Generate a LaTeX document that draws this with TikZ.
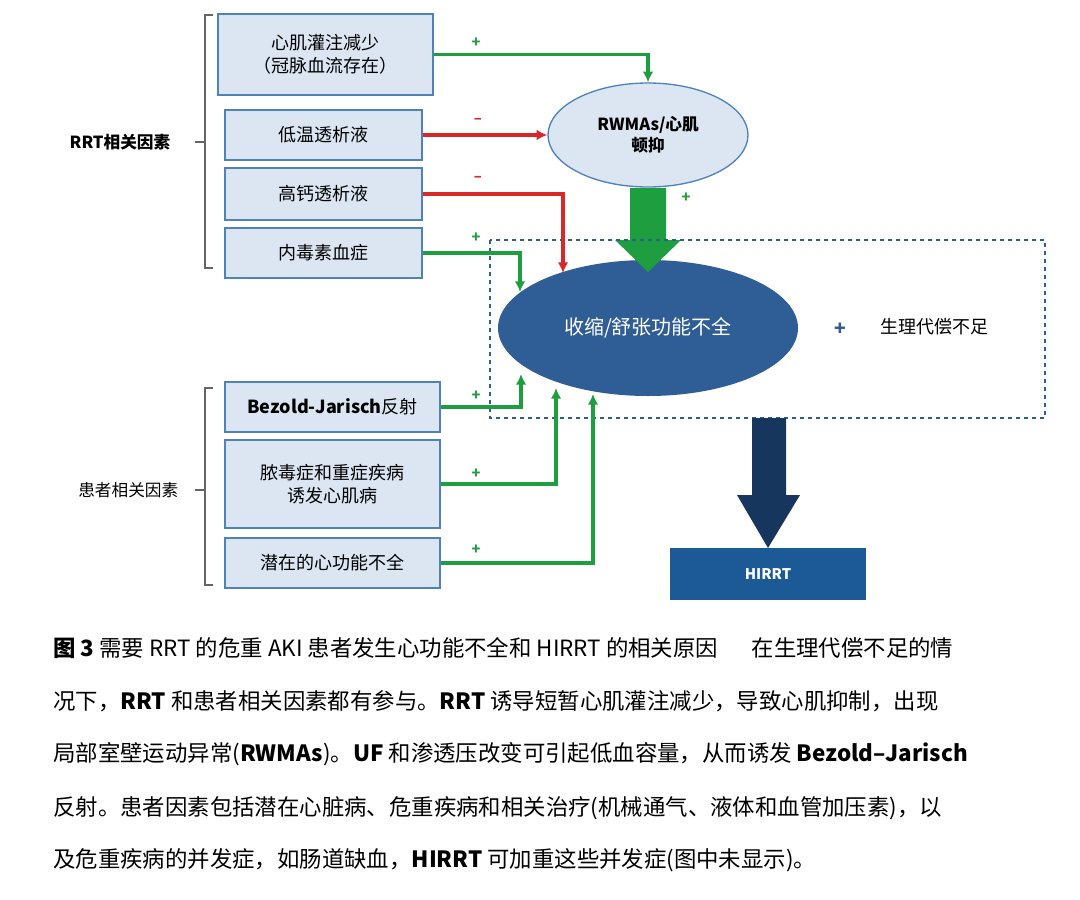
\documentclass[tikz,border=0pt]{standalone}
\usepackage{fontspec}
\setmainfont{Noto Sans CJK SC}
\usetikzlibrary{positioning,shapes.geometric,calc,arrows.meta}
\definecolor{boxfill}{HTML}{DCE6F2}
\definecolor{boxline}{HTML}{4F81BD}
\definecolor{darkblue}{HTML}{2F5D95}
\definecolor{navy}{HTML}{17365D}
\definecolor{hirrtblue}{HTML}{1C5A96}
\definecolor{arrgreen}{HTML}{1E9E3E}
\definecolor{arrred}{HTML}{D8282A}
\begin{document}
\begin{tikzpicture}[x=0.75pt,y=-0.75pt]
    \tikzstyle{factor}=[draw=boxline,fill=boxfill,line width=1pt,inner sep=0,align=center,font=\fontsize{13.5}{17}\selectfont]
    \tikzstyle{plusarr}=[draw=arrgreen,line width=2.4pt,-{Latex[length=8pt,width=8pt]}]
    \tikzstyle{minusarr}=[draw=arrred,line width=2.4pt,-{Latex[length=8pt,width=8pt]}]
    \tikzstyle{sign}=[font=\bfseries\fontsize{11}{11}\selectfont,inner sep=0]
    \tikzstyle{brace}=[draw=gray!80!black,line width=0.8pt]
    \tikzstyle{group}=[font=\fontsize{12.5}{14}\selectfont,anchor=east]
    \tikzstyle{captext}=[anchor=west,inner sep=0,font=\fontsize{16.8}{18}\selectfont]
    \useasboundingbox (0,0) rectangle (1080,899);
    \fill[white] (0,0) rectangle (1080,899);
    {
        % RRT related factors
        \node[factor,minimum width=161.25pt,minimum height=60.75pt] (perf) at (325.5,54.5) {心肌灌注减少\\（冠脉血流存在）};
        \node[factor,minimum width=147.75pt,minimum height=37.5pt] (cold) at (323.5,135) {低温透析液};
        \node[factor,minimum width=147.75pt,minimum height=39pt] (calc) at (323.5,194) {高钙透析液};
        \node[factor,minimum width=147.75pt,minimum height=37.5pt] (endo) at (323.5,253) {内毒素血症};
        % patient related factors
        \node[factor,minimum width=161.25pt,minimum height=37.5pt] (bj) at (332.5,407) {\textbf{Bezold-Jarisch}反射};
        \node[factor,minimum width=161.25pt,minimum height=66pt] (sep) at (332.5,484) {脓毒症和重症疾病\\诱发心肌病};
        \node[factor,minimum width=161.25pt,minimum height=37.5pt] (lat) at (332.5,563) {潜在的心功能不全};
        % brackets
        \draw[brace] (213,15) -- (205,15) -- (205,268) -- (213,268);
        \draw[brace] (195,142) -- (205,142);
        \node[group,font=\bfseries\fontsize{12.5}{14}\selectfont] (rrt) at (175,142) {RRT相关因素};
        \draw[brace] (213,388) -- (205,388) -- (205,585) -- (213,585);
        \draw[brace] (195,490) -- (205,490);
        \node[group] (pat) at (183,490) {患者相关因素};
        % ellipses
        \node[ellipse,draw=boxline,fill=boxfill,line width=1pt,minimum width=150pt,minimum height=78pt,align=center,font=\bfseries\fontsize{12.5}{16}\selectfont] (rwma) at (648,135) {RWMAs/心肌\\顿抑};
        \node[ellipse,fill=darkblue,minimum width=225pt,minimum height=102pt,text=white,font=\fontsize{15}{17}\selectfont] (dys) at (648,328) {收缩/舒张功能不全};
        % big green arrow
        \fill[arrgreen] (630,188) -- (666,188) -- (666,240) -- (681,240) -- (648,272) -- (615,240) -- (630,240) -- cycle;
        % dotted frame
        \draw[darkblue,line width=1.2pt,dash pattern=on 3pt off 3pt] (490,240) rectangle (1045,418);
        \node[text=darkblue,font=\bfseries\Large,inner sep=0] (plus) at (840,329) {+};
        \node[font=\fontsize{13.5}{15}\selectfont,anchor=west] (comp) at (876,327) {生理代偿不足};
        % HIRRT
        \node[fill=hirrtblue,minimum width=147pt,minimum height=39pt,text=white,font=\bfseries\fontsize{11}{13}\selectfont] (hirrt) at (768,574) {HIRRT};
        \fill[navy] (752,418) -- (786,418) -- (786,495) -- (800,495) -- (768,548) -- (737,495) -- (752,495) -- cycle;
        \node[sign,text=arrgreen] at (686,198) {+};
        % connectors
        \draw[plusarr] (perf.east) -| (rwma.north);
        \draw[minusarr] (cold.east) -- (rwma.west);
        \coordinate (calcin) at ($(dys.center)+(-85,-55)$);
        \draw[minusarr] (calc.east) -| (calcin);
        \coordinate (endoin) at ($(dys.center)+(-128,-36)$);
        \draw[plusarr] (endo.east) -| (endoin);
        \coordinate (bjin) at ($(dys.center)+(-127,46)$);
        \draw[plusarr] (bj.east) -| (bjin);
        \coordinate (sepin) at ($(dys.center)+(-92,60)$);
        \draw[plusarr] (sep.east) -| (sepin);
        \coordinate (latin) at ($(dys.center)+(-55,66)$);
        \draw[plusarr] (lat.east) -| (latin);
        \node[sign,text=arrgreen] at (476,43) {+};
        \node[sign,text=arrred] at (478,121) {--};
        \node[sign,text=arrred] at (478,179) {--};
        \node[sign,text=arrgreen] at (476,238) {+};
        \node[sign,text=arrgreen] at (476,396) {+};
        \node[sign,text=arrgreen] at (476,474) {+};
        \node[sign,text=arrgreen] at (476,550) {+};
    }
    % caption
    \node[captext] (l1) at (53,648) {\textbf{图 3} 需要 RRT 的危重 AKI 患者发生心功能不全和 HIRRT 的相关原因\hspace{1.5em}在生理代偿不足的情};
    \node[captext] (l2) at (53,701) {况下，\textbf{RRT} 和患者相关因素都有参与。\textbf{RRT} 诱导短暂心肌灌注减少，导致心肌抑制，出现};
    \node[captext] (l3) at (53,754) {局部室壁运动异常(\textbf{RWMAs})。\textbf{UF} 和渗透压改变可引起低血容量，从而诱发 \textbf{Bezold–Jarisch}};
    \node[captext] (l4) at (53,808) {反射。患者因素包括潜在心脏病、危重疾病和相关治疗(机械通气、液体和血管加压素)，以};
    \node[captext] (l5) at (53,860) {及危重疾病的并发症，如肠道缺血，\textbf{HIRRT} 可加重这些并发症(图中未显示)。};
\end{tikzpicture}
\end{document}
